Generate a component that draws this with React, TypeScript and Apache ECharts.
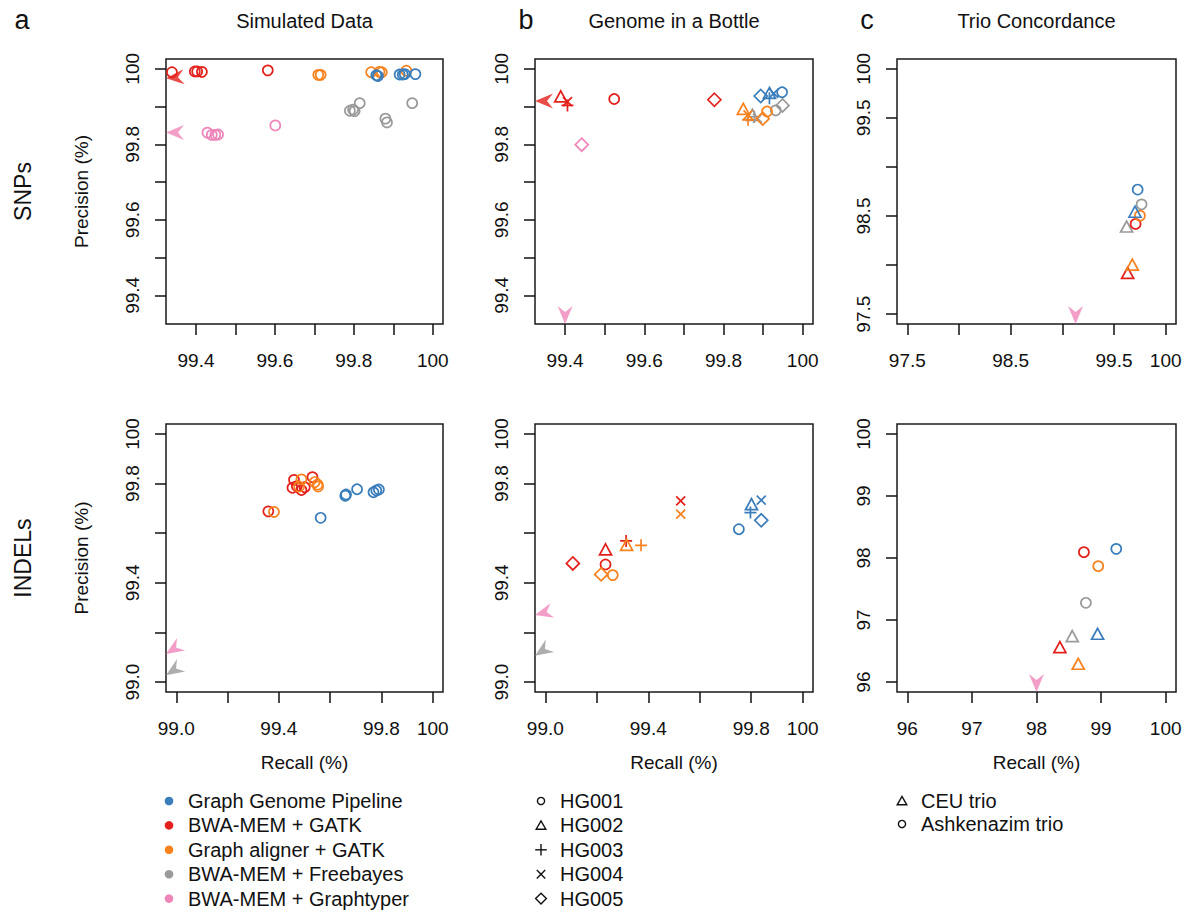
import React, { useEffect, useRef } from 'react';
import * as echarts from 'echarts';

const FONT = '"Liberation Sans", Arial, Helvetica, sans-serif';
const INK = '#111111';

// ---- categories ----
const methods = ['Graph Genome Pipeline', 'BWA-MEM + GATK', 'Graph aligner + GATK', 'BWA-MEM + Freebayes', 'BWA-MEM + Graphtyper'];
const methodColors = ['#3a7dbb', '#e3211c', '#f7821e', '#9a9a9a', '#ef86ba'];
const giabSamples = ['HG001', 'HG002', 'HG003', 'HG004', 'HG005'];
const giabShapes = ['circle', 'triangle', 'plus', 'cross', 'diamond'];
const trios = ['CEU trio', 'Ashkenazim trio'];
const trioShapes = ['triangle', 'circle'];
const columnTitles = ['Simulated Data', 'Genome in a Bottle', 'Trio Concordance'];
const columnLetters = ['a', 'b', 'c'];
const rowLabels = ['SNPs', 'INDELs'];

// ---- Simulated data, SNPs: [recall, precision] ----
const simSnpGraph = [[99.857, 99.983], [99.861, 99.981], [99.916, 99.985], [99.924, 99.985], [99.929, 99.986], [99.956, 99.986]];
const simSnpBwaGatk = [[99.339, 99.991], [99.397, 99.993], [99.403, 99.993], [99.415, 99.992], [99.582, 99.996]];
const simSnpGraphGatk = [[99.71, 99.984], [99.716, 99.984], [99.844, 99.991], [99.865, 99.992], [99.871, 99.991], [99.933, 99.995]];
const simSnpFreebayes = [[99.815, 99.909], [99.79, 99.889], [99.798, 99.892], [99.802, 99.888], [99.88, 99.868], [99.884, 99.858], [99.948, 99.909]];
const simSnpGraphtyper = [[99.429, 99.831], [99.44, 99.825], [99.449, 99.825], [99.456, 99.826], [99.601, 99.85]];
// off-scale markers: [method, recall (null = left edge), precision (null = bottom edge), arrow angle]
const simSnpOffscale = [[1, null, 99.975, 5], [4, null, 99.831, 0]];

// ---- Simulated data, INDELs ----
const simIndelGraph = [[99.563, 99.662], [99.659, 99.751], [99.662, 99.756], [99.705, 99.777], [99.769, 99.765], [99.78, 99.772], [99.79, 99.776]];
const simIndelBwaGatk = [[99.359, 99.688], [99.459, 99.815], [99.453, 99.783], [99.488, 99.774], [99.501, 99.785], [99.531, 99.826], [99.47, 99.79]];
const simIndelGraphGatk = [[99.381, 99.686], [99.488, 99.817], [99.479, 99.788], [99.551, 99.796], [99.553, 99.788], [99.54, 99.806]];
const simIndelFreebayes: number[][] = [];
const simIndelGraphtyper: number[][] = [];
const simIndelOffscale = [[4, null, 99.113, 33], [3, null, 99.028, 33]];

// ---- Genome in a Bottle, SNPs: [recall, precision, sample] ----
const giabSnpGraph = [[99.948, 99.938, 0], [99.916, 99.936, 1], [99.916, 99.922, 2], [99.927, 99.935, 3], [99.894, 99.928, 4]];
const giabSnpBwaGatk = [[99.524, 99.92, 0], [99.389, 99.927, 1], [99.406, 99.903, 2], [99.406, 99.913, 3], [99.777, 99.918, 4]];
const giabSnpGraphGatk = [[99.91, 99.887, 0], [99.85, 99.894, 1], [99.862, 99.865, 2], [99.862, 99.878, 3], [99.899, 99.868, 4]];
const giabSnpFreebayes = [[99.932, 99.89, 0], [99.873, 99.878, 1], [99.878, 99.873, 2], [99.886, 99.869, 3], [99.949, 99.903, 4]];
const giabSnpGraphtyper = [[99.442, 99.799, 4]];
const giabSnpOffscale = [[1, null, 99.915, 0], [4, 99.4, null, 90]];

// ---- Genome in a Bottle, INDELs ----
const giabIndelGraph = [[99.752, 99.616, 0], [99.801, 99.717, 1], [99.797, 99.683, 2], [99.839, 99.733, 3], [99.839, 99.652, 4]];
const giabIndelBwaGatk = [[99.234, 99.474, 0], [99.234, 99.535, 1], [99.314, 99.569, 2], [99.526, 99.73, 3], [99.107, 99.478, 4]];
const giabIndelGraphGatk = [[99.262, 99.431, 0], [99.316, 99.553, 1], [99.372, 99.551, 2], [99.526, 99.677, 3], [99.217, 99.434, 4]];
const giabIndelFreebayes: number[][] = [];
const giabIndelGraphtyper: number[][] = [];
const giabIndelOffscale = [[4, null, 99.27, 15], [3, null, 99.106, 34]];

// ---- Trio concordance, SNPs: [recall, precision, trio] ----
const trioSnpGraph = [[99.703, 98.544, 0], [99.729, 98.77, 1]];
const trioSnpBwaGatk = [[99.632, 97.921, 0], [99.709, 98.42, 1]];
const trioSnpGraphGatk = [[99.677, 98.005, 0], [99.751, 98.504, 1]];
const trioSnpFreebayes = [[99.622, 98.393, 0], [99.767, 98.619, 1]];
const trioSnpGraphtyper: number[][] = [];
const trioSnpOffscale = [[4, 99.128, null, 90]];

// ---- Trio concordance, INDELs ----
const trioIndelGraph = [[98.946, 96.778, 0], [99.235, 98.148, 1]];
const trioIndelBwaGatk = [[98.362, 96.564, 0], [98.734, 98.094, 1]];
const trioIndelGraphGatk = [[98.646, 96.295, 0], [98.956, 97.868, 1]];
const trioIndelFreebayes = [[98.553, 96.741, 0], [98.765, 97.278, 1]];
const trioIndelGraphtyper: number[][] = [];
const trioIndelOffscale = [[4, 98.0, null, 90]];

// ---- axis ranges and ticks ----
const snpRange = [99.324, 100.026];
const snpTicks = [99.4, 99.5, 99.6, 99.7, 99.8, 99.9, 100];
const snpLabels = ['99.4', '99.6', '99.8', '100'];
const indelRange = [98.96, 100.04];
const indelTicks = [99.0, 99.2, 99.4, 99.6, 99.8, 100];
const indelLabels = ['99.0', '99.4', '99.8', '100'];
const trioSnpRange = [97.4, 100.1];
const trioSnpTicks = [97.5, 98, 98.5, 99, 99.5, 100];
const trioSnpLabels = ['97.5', '98.5', '99.5', '100'];
const trioIndelRange = [95.84, 100.16];
const trioIndelTicks = [96, 97, 98, 99, 100];
const trioIndelLabels = ['96', '97', '98', '99', '100'];

// ---- layout ----
const colLeft = [166, 535, 897];
const colWidth = [277, 278, 279];
const rowTop = [59, 424];
const rowHeight = [265, 268];

const panels = [
  { col: 0, row: 0, mode: 'sim', range: snpRange, ticks: snpTicks, labels: snpLabels,
    data: [simSnpGraph, simSnpBwaGatk, simSnpGraphGatk, simSnpFreebayes, simSnpGraphtyper], off: simSnpOffscale },
  { col: 1, row: 0, mode: 'giab', range: snpRange, ticks: snpTicks, labels: snpLabels,
    data: [giabSnpGraph, giabSnpBwaGatk, giabSnpGraphGatk, giabSnpFreebayes, giabSnpGraphtyper], off: giabSnpOffscale },
  { col: 2, row: 0, mode: 'trio', range: trioSnpRange, ticks: trioSnpTicks, labels: trioSnpLabels,
    data: [trioSnpGraph, trioSnpBwaGatk, trioSnpGraphGatk, trioSnpFreebayes, trioSnpGraphtyper], off: trioSnpOffscale },
  { col: 0, row: 1, mode: 'sim', range: indelRange, ticks: indelTicks, labels: indelLabels,
    data: [simIndelGraph, simIndelBwaGatk, simIndelGraphGatk, simIndelFreebayes, simIndelGraphtyper], off: simIndelOffscale },
  { col: 1, row: 1, mode: 'giab', range: indelRange, ticks: indelTicks, labels: indelLabels,
    data: [giabIndelGraph, giabIndelBwaGatk, giabIndelGraphGatk, giabIndelFreebayes, giabIndelGraphtyper], off: giabIndelOffscale },
  { col: 2, row: 1, mode: 'trio', range: trioIndelRange, ticks: trioIndelTicks, labels: trioIndelLabels,
    data: [trioIndelGraph, trioIndelBwaGatk, trioIndelGraphGatk, trioIndelFreebayes, trioIndelGraphtyper], off: trioIndelOffscale },
];

const SYMBOLS: Record<string, { symbol: string; size: number | number[] }> = {
  circle: { symbol: 'circle', size: 10 },
  triangle: { symbol: 'triangle', size: [12, 11] },
  plus: { symbol: 'path://M5,0L5,10M0,5L10,5', size: 12 },
  cross: { symbol: 'path://M0,0L10,10M10,0L0,10', size: 9 },
  diamond: { symbol: 'diamond', size: [13, 13] },
};
const ARROW = 'path://M0,7.5L18,0L12,7.5L18,15Z';
const drawOrder = [3, 4, 1, 2, 0];

function labelFormatter(labels: string[]) {
  return (v: number) => {
    const l = labels.find((s) => Math.abs(Number(s) - v) < 1e-6);
    return l ?? '';
  };
}

function buildOption() {
  const grid: any[] = [];
  const xAxis: any[] = [];
  const yAxis: any[] = [];
  const series: any[] = [];

  panels.forEach((p, i) => {
    grid.push({
      left: colLeft[p.col], top: rowTop[p.row], width: colWidth[p.col], height: rowHeight[p.row],
      show: true, borderColor: '#1a1a1a', borderWidth: 1.5, backgroundColor: 'transparent',
      containLabel: false, outerBoundsMode: 'none',
    });
    const common = {
      gridIndex: i, type: 'value', min: p.range[0], max: p.range[1], scale: true,
      axisLine: { show: false }, splitLine: { show: false },
      axisTick: { show: true, inside: false, length: 11, customValues: p.ticks, lineStyle: { color: INK, width: 1.5 } },
    };
    xAxis.push({
      ...common, position: 'bottom',
      axisLabel: { customValues: p.labels.map(Number), formatter: labelFormatter(p.labels), fontSize: 19, color: INK, fontFamily: FONT, margin: 27 },
    });
    yAxis.push({
      ...common, position: 'left',
      axisLabel: { customValues: p.labels.map(Number), formatter: labelFormatter(p.labels), fontSize: 19, color: INK, fontFamily: FONT, margin: 24, rotate: 90 },
    });

    drawOrder.forEach((m) => {
      const pts = p.data[m];
      if (!pts.length) return;
      const shapeOf = (d: number[]) => (p.mode === 'sim' ? 'circle' : p.mode === 'giab' ? giabShapes[d[2]] : trioShapes[d[2]]);
      const shapes = Array.from(new Set(pts.map(shapeOf)));
      shapes.forEach((s) => {
        const sym = SYMBOLS[s];
        series.push({
          type: 'scatter', xAxisIndex: i, yAxisIndex: i, silent: true, clip: false,
          symbol: sym.symbol, symbolSize: sym.size,
          itemStyle: { color: 'transparent', borderColor: methodColors[m], borderWidth: 1.7, opacity: 1 },
          data: pts.filter((d) => shapeOf(d) === s).map((d) => [d[0], d[1]]),
          z: 3,
        });
      });
    });

    series.push({
      type: 'scatter', xAxisIndex: i, yAxisIndex: i, silent: true, clip: false,
      symbol: ARROW, symbolSize: [18, 15], z: 4,
      data: p.off.map((o: any[]) => {
        const ang = o[3];
        const rad = (ang * Math.PI) / 180;
        return {
          value: [o[1] ?? p.range[0], o[2] ?? p.range[0]],
          symbolRotate: ang,
          symbolOffset: [9 * Math.cos(rad), -9 * Math.sin(rad)],
          itemStyle: { color: methodColors[o[0]], borderWidth: 0 },
        };
      }),
    });
  });

  const graphic: any[] = [];
  const txt = (text: string, x: number, y: number, size: number, opts: any = {}) => ({
    type: 'text', x, y, rotation: opts.rotation ?? 0, silent: true,
    style: { text, fontSize: size, fontFamily: FONT, fill: INK, align: opts.align ?? 'center', verticalAlign: 'middle' },
  });

  const letterX = [22, 526, 867];
  columnLetters.forEach((l, c) => graphic.push(txt(l, letterX[c], 20, 27)));
  columnTitles.forEach((t, c) => graphic.push(txt(t, colLeft[c] + colWidth[c] / 2, 21, 20)));
  rowLabels.forEach((r, k) => {
    const cy = rowTop[k] + rowHeight[k] / 2;
    graphic.push(txt(r, 23, cy, 23, { rotation: Math.PI / 2 }));
    graphic.push(txt('Precision (%)', 81, cy, 19, { rotation: Math.PI / 2 }));
  });
  [0, 1, 2].forEach((c) => graphic.push(txt('Recall (%)', colLeft[c] + colWidth[c] / 2, 762, 19)));

  // legend: methods
  const legY = 801;
  const legStep = 24.4;
  methods.forEach((name, k) => {
    const y = legY + k * legStep;
    graphic.push({ type: 'circle', silent: true, shape: { cx: 169, cy: y, r: 4.3 }, style: { fill: methodColors[k] } });
    graphic.push(txt(name, 188, y, 20, { align: 'left' }));
  });
  const shapeGraphic = (s: string, cx: number, cy: number) => {
    const st = { fill: 'none', stroke: INK, lineWidth: 1.4 };
    if (s === 'circle') return [{ type: 'circle', silent: true, shape: { cx, cy, r: 3.6 }, style: st }];
    if (s === 'triangle') return [{ type: 'polygon', silent: true, shape: { points: [[cx - 4.8, cy + 3.8], [cx + 4.8, cy + 3.8], [cx, cy - 4.6]] }, style: st }];
    if (s === 'plus') return [
      { type: 'line', silent: true, shape: { x1: cx - 5.8, y1: cy, x2: cx + 5.8, y2: cy }, style: st },
      { type: 'line', silent: true, shape: { x1: cx, y1: cy - 5.8, x2: cx, y2: cy + 5.8 }, style: st },
    ];
    if (s === 'cross') return [
      { type: 'line', silent: true, shape: { x1: cx - 4.2, y1: cy - 4.2, x2: cx + 4.2, y2: cy + 4.2 }, style: st },
      { type: 'line', silent: true, shape: { x1: cx - 4.2, y1: cy + 4.2, x2: cx + 4.2, y2: cy - 4.2 }, style: st },
    ];
    return [{ type: 'polygon', silent: true, shape: { points: [[cx, cy - 5.4], [cx + 5.4, cy], [cx, cy + 5.4], [cx - 5.4, cy]] }, style: st }];
  };
  giabSamples.forEach((name, k) => {
    const y = legY + k * legStep;
    graphic.push(...shapeGraphic(giabShapes[k], 541, y));
    graphic.push(txt(name, 560, y, 20, { align: 'left' }));
  });
  trios.forEach((name, k) => {
    const y = legY + k * 23;
    graphic.push(...shapeGraphic(trioShapes[k], 902, y));
    graphic.push(txt(name, 921, y, 20, { align: 'left' }));
  });

  return {
    animation: false,
    backgroundColor: '#ffffff',
    textStyle: { fontFamily: FONT },
    grid, xAxis, yAxis, series, graphic,
  };
}

export default function App() {
  const ref = useRef<HTMLDivElement>(null);
  useEffect(() => {
    const chart = echarts.init(ref.current as HTMLDivElement, null, { renderer: 'svg' });
    chart.setOption(buildOption() as any);
    return () => chart.dispose();
  }, []);
  return <div ref={ref} style={{ position: 'absolute', left: 0, top: 0, width: 1188, height: 913, background: '#fff' }} />;
}
